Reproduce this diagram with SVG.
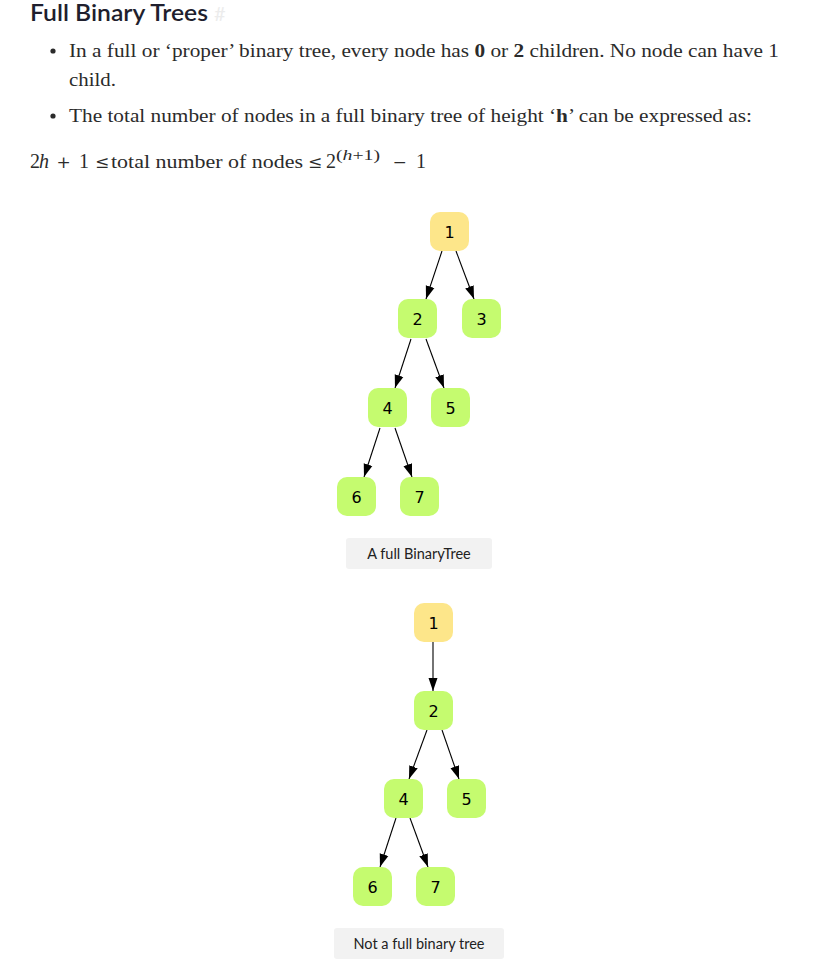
<svg xmlns="http://www.w3.org/2000/svg" width="813" height="968" viewBox="0 0 813 968">
<style>
.title{font-family:"Lato","Open Sans",sans-serif;font-size:22px;font-weight:600;fill:#1f1f2e}
.body{font-family:"Liberation Serif","DejaVu Serif",serif;font-size:19.5px;fill:#2b2b2b}
.m{font-family:"Liberation Serif","DejaVu Serif",serif;font-size:20px;fill:#2b2b2b}
.op{font-family:"DejaVu Serif",serif;font-size:17px;fill:#2b2b2b;text-anchor:middle}
.sup{font-family:"Liberation Serif","DejaVu Serif",serif;font-size:15px;fill:#2b2b2b}
.node rect{stroke:none}
.g rect{fill:#c5fb6f}
.y rect{fill:#fde68a}
.node text{font-family:"DejaVu Sans",sans-serif;font-size:16px;fill:#000;text-anchor:middle}
.cap rect{fill:#f2f2f2}
.cap text{font-family:"Lato","Open Sans",sans-serif;font-size:14.5px;fill:#222;text-anchor:middle}
.edges line{stroke:#000;stroke-width:1.1;marker-end:url(#ah)}
</style>
<defs>
<marker id="ah" markerUnits="userSpaceOnUse" markerWidth="13" markerHeight="10" refX="13" refY="5" orient="auto">
<path d="M0,0.5 L13,5 L0,9.5 z" fill="#000"/>
</marker>
</defs>
<rect width="813" height="968" fill="#fff"/>
<text class="title" x="30" y="21" textLength="178" lengthAdjust="spacingAndGlyphs">Full Binary Trees</text>
<text x="214" y="21" style="font-family:Lato,sans-serif;font-size:20px;fill:#ececec">#</text>
<circle cx="53" cy="51" r="2.6" fill="#2b2b2b"/>
<text class="body" x="69" y="57" textLength="710" lengthAdjust="spacingAndGlyphs">In a full or ‘proper’ binary tree, every node has <tspan font-weight="bold">0</tspan> or <tspan font-weight="bold">2</tspan> children. No node can have 1</text>
<text class="body" x="69" y="86" textLength="47" lengthAdjust="spacingAndGlyphs">child.</text>
<circle cx="53" cy="116" r="2.6" fill="#2b2b2b"/>
<text class="body" x="69" y="122" textLength="683" lengthAdjust="spacingAndGlyphs">The total number of nodes in a full binary tree of height ‘<tspan font-weight="bold">h</tspan>’ can be expressed as:</text>
<g id="formula">
<text x="30" y="168" class="m">2</text>
<text x="39" y="168" class="m" font-style="italic">h</text>
<text x="63.5" y="168" class="op">+</text>
<text x="79" y="168" class="m">1</text>
<text x="102" y="168" class="op">≤</text>
<text x="111" y="168" class="body" textLength="192" lengthAdjust="spacingAndGlyphs">total number of nodes</text>
<text x="315" y="168" class="op">≤</text>
<text x="326" y="168" class="m">2</text>
<text x="336" y="160" class="sup" textLength="44" lengthAdjust="spacingAndGlyphs">(<tspan font-style="italic">h</tspan>+1)</text>
<text x="399.5" y="168" class="op">−</text>
<text x="416" y="168" class="m">1</text>
</g>
<g class="edges" id="edges">
<line x1="442" y1="251" x2="426" y2="299"/>
<line x1="456" y1="251" x2="474" y2="299"/>
<line x1="411" y1="339" x2="395" y2="388"/>
<line x1="426" y1="339" x2="444" y2="388"/>
<line x1="380" y1="428" x2="364" y2="477"/>
<line x1="395" y1="428" x2="412" y2="477"/>
<line x1="433" y1="642" x2="433" y2="691"/>
<line x1="427" y1="730" x2="409" y2="779"/>
<line x1="442" y1="730" x2="459" y2="779"/>
<line x1="396" y1="818" x2="380" y2="867"/>
<line x1="410" y1="818" x2="428" y2="867"/>
</g>
<g id="t1n1" class="node y"><rect x="430" y="212" width="39" height="39" rx="10"/><text x="449.5" y="237.5">1</text></g>
<g id="t1n2" class="node g"><rect x="398" y="299" width="39" height="39" rx="10"/><text x="417.5" y="324.5">2</text></g>
<g id="t1n3" class="node g"><rect x="462" y="299" width="39" height="39" rx="10"/><text x="481.5" y="324.5">3</text></g>
<g id="t1n4" class="node g"><rect x="368" y="388" width="39" height="39" rx="10"/><text x="387.5" y="413.5">4</text></g>
<g id="t1n5" class="node g"><rect x="431" y="388" width="39" height="39" rx="10"/><text x="450.5" y="413.5">5</text></g>
<g id="t1n6" class="node g"><rect x="337" y="477" width="39" height="39" rx="10"/><text x="356.5" y="502.5">6</text></g>
<g id="t1n7" class="node g"><rect x="400" y="477" width="39" height="39" rx="10"/><text x="419.5" y="502.5">7</text></g>
<g id="cap1" class="cap"><rect x="346" y="538" width="146" height="31" rx="3"/><text x="419" y="558.5">A full BinaryTree</text></g>
<g id="t2n1" class="node y"><rect x="414" y="603" width="39" height="39" rx="10"/><text x="433.5" y="628.5">1</text></g>
<g id="t2n2" class="node g"><rect x="414" y="691" width="39" height="39" rx="10"/><text x="433.5" y="716.5">2</text></g>
<g id="t2n4" class="node g"><rect x="384" y="779" width="39" height="39" rx="10"/><text x="403.5" y="804.5">4</text></g>
<g id="t2n5" class="node g"><rect x="447" y="779" width="39" height="39" rx="10"/><text x="466.5" y="804.5">5</text></g>
<g id="t2n6" class="node g"><rect x="353" y="867" width="39" height="39" rx="10"/><text x="372.5" y="892.5">6</text></g>
<g id="t2n7" class="node g"><rect x="416" y="867" width="39" height="39" rx="10"/><text x="435.5" y="892.5">7</text></g>
<g id="cap2" class="cap"><rect x="334" y="928" width="170" height="31" rx="3"/><text x="419" y="948.5">Not a full binary tree</text></g>
</svg>
